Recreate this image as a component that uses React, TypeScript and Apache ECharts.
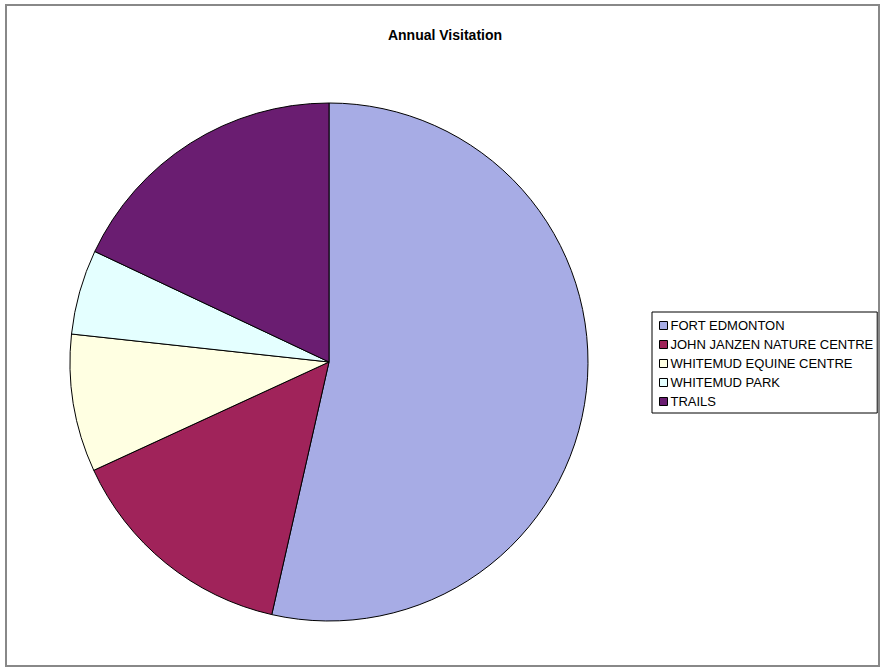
import React, { useEffect, useRef } from "react";
import * as echarts from "echarts";

const categories = [
  "FORT EDMONTON",
  "JOHN JANZEN NATURE CENTRE",
  "WHITEMUD EQUINE CENTRE",
  "WHITEMUD PARK",
  "TRAILS",
];
const values = [53.6, 14.6, 8.6, 5.3, 18.0];
const colors = ["#A7ACE5", "#A0235A", "#FFFFE2", "#E4FFFF", "#6A1D71"];

export default function App() {
  const ref = useRef<HTMLDivElement>(null);
  useEffect(() => {
    if (!ref.current) return;
    const chart = echarts.init(ref.current, null, { renderer: "svg" });
    chart.setOption({
      animation: false,
      backgroundColor: "#ffffff",
      title: {
        text: "Annual Visitation",
        left: 440,
        textAlign: "center",
        top: 23,
        textStyle: {
          fontFamily: "Liberation Sans, Arial, sans-serif",
          fontSize: 14,
          fontWeight: "bold",
          color: "#000",
        },
      },
      graphic: [
        {
          type: "rect",
          shape: { x: 6, y: 5, width: 873, height: 661 },
          style: { fill: "none", stroke: "#888888", lineWidth: 2 },
          silent: true,
        },
      ],
      legend: {
        orient: "vertical",
        left: 652,
        top: 312,
        data: categories,
        icon: "rect",
        itemWidth: 8,
        itemHeight: 8,
        itemGap: 4,
        padding: [6, 4, 4, 7],
        borderColor: "#000",
        borderWidth: 1,
        selectedMode: false,
        textStyle: {
          fontFamily: "Liberation Sans, Arial, sans-serif",
          fontSize: 13,
          color: "#000",
          lineHeight: 15,
          padding: [0, 0, 0, -2],
        },
        itemStyle: { borderColor: "#000", borderWidth: 1 },
      },
      series: [
        {
          type: "pie",
          center: [329, 362],
          radius: 259,
          startAngle: 90,
          clockwise: true,
          silent: true,
          label: { show: false },
          labelLine: { show: false },
          emphasis: { disabled: true },
          itemStyle: { borderColor: "#000", borderWidth: 1 },
          data: categories.map((name, i) => ({
            name,
            value: values[i],
            itemStyle: { color: colors[i] },
          })),
        },
      ],
    });
    return () => chart.dispose();
  }, []);
  return (
    <div
      ref={ref}
      style={{ position: "fixed", left: 0, top: 0, width: 882, height: 668 }}
    />
  );
}
